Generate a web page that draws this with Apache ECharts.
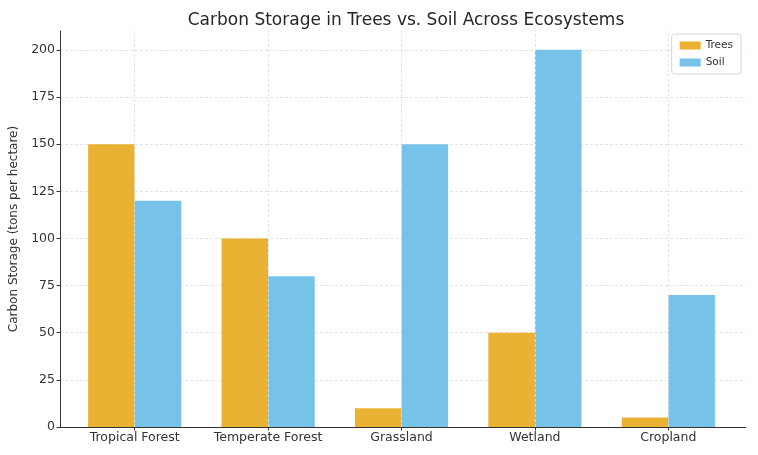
<!DOCTYPE html>
<html>
<head>
<meta charset="utf-8">
<script src="https://cdn.jsdelivr.net/npm/echarts@6/dist/echarts.min.js"></script>
<style>
  html, body { margin: 0; padding: 0; background: #fff; }
  #chart { width: 758px; height: 455px; }
</style>
</head>
<body>
<div id="chart"></div>
<script>
const categories = ['Tropical Forest', 'Temperate Forest', 'Grassland', 'Wetland', 'Cropland'];
const treesValues = [150, 100, 10, 50, 5];
const soilValues = [120, 80, 150, 200, 70];
const seriesNames = ['Trees', 'Soil'];

const font = 'DejaVu Sans';
const gridLine = { color: '#dedede', type: [3, 2], width: 0.8 };

const chart = echarts.init(document.getElementById('chart'), null, { renderer: 'canvas' });

chart.setOption({
  animation: false,
  textStyle: { fontFamily: font },
  title: {
    text: 'Carbon Storage in Trees vs. Soil Across Ecosystems',
    left: 401, top: 7, textAlign: 'center',
    textStyle: { fontFamily: font, fontSize: 17, fontWeight: 'normal', color: '#262626' }
  },
  legend: {
    data: seriesNames,
    orient: 'vertical',
    right: 17, top: 34,
    itemWidth: 21, itemHeight: 8, itemGap: 6,
    icon: 'rect',
    padding: [6, 8, 6, 8],
    borderColor: '#d6d6d6', borderWidth: 1, borderRadius: 3,
    backgroundColor: '#fff',
    textStyle: { fontFamily: font, fontSize: 10.5, color: '#333' }
  },
  grid: [
    { left: 57, right: 12, top: 31, bottom: 28 },
    { left: 68, right: 23, top: 31, bottom: 28 }
  ],
  xAxis: [
    {
      gridIndex: 0, type: 'value', min: 0, max: 1,
      axisLine: { show: true, lineStyle: { color: '#333', width: 1 } },
      axisTick: { show: false }, axisLabel: { show: false }, splitLine: { show: false }
    },
    {
      gridIndex: 1, type: 'category', data: categories,
      axisLine: { show: false },
      axisTick: { show: true, alignWithLabel: true, length: 3.5, lineStyle: { color: '#333' } },
      axisLabel: { fontFamily: font, fontSize: 12.5, color: '#333', margin: 4, interval: 0 },
      splitLine: { show: false }
    }
  ],
  yAxis: [
    {
      gridIndex: 0, type: 'value', min: 0, max: 210, interval: 25,
      name: 'Carbon Storage (tons per hectare)',
      nameLocation: 'middle', nameGap: 40,
      nameTextStyle: { fontFamily: font, fontSize: 12, color: '#333' },
      axisLine: { show: true, lineStyle: { color: '#333', width: 1 } },
      axisTick: { show: true, length: 3.5, lineStyle: { color: '#333' } },
      axisLabel: { fontFamily: font, fontSize: 12.5, color: '#333', margin: 5, showMaxLabel: false },
      splitLine: { show: true, showMaxLine: false, lineStyle: gridLine }
    },
    {
      gridIndex: 1, type: 'value', min: 0, max: 210, interval: 25, show: false
    }
  ],
  series: [
    {
      name: 'category-grid', type: 'line', xAxisIndex: 1, yAxisIndex: 1,
      data: [], silent: true, z: 1,
      markLine: {
        silent: true, symbol: 'none', label: { show: false },
        lineStyle: gridLine,
        data: categories.map(c => ({ xAxis: c }))
      }
    },
    {
      name: seriesNames[0], type: 'bar', xAxisIndex: 1, yAxisIndex: 1,
      data: treesValues, barWidth: 46.6, barGap: '0%', z: 2,
      itemStyle: { color: '#EAB232' }
    },
    {
      name: seriesNames[1], type: 'bar', xAxisIndex: 1, yAxisIndex: 1,
      data: soilValues, barWidth: 46.6, barGap: '0%', z: 2,
      itemStyle: { color: '#77C2E9' }
    }
  ]
});
</script>
</body>
</html>
